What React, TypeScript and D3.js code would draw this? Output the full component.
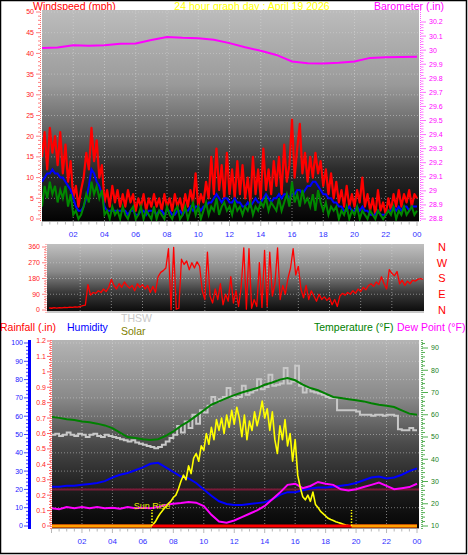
import React from 'react';
import * as d3 from 'd3';

// ---------------- data ----------------
const titleText = '24 hour graph day : April 19 2026';
const hourLabels = ['02', '04', '06', '08', '10', '12', '14', '16', '18', '20', '22', '00'];
const hourLabelHours = [2, 4, 6, 8, 10, 12, 14, 16, 18, 20, 22, 24];

const windTicks = [0, 5, 10, 15, 20, 25, 30, 35, 40, 45, 50];
const baroTicks = [28.8, 28.9, 29.0, 29.1, 29.2, 29.3, 29.4, 29.5, 29.6, 29.7, 29.8, 29.9, 30.0, 30.1, 30.2];
const dirTicks = [0, 90, 180, 270, 360];
const dirLetters = ['N', 'E', 'S', 'W', 'N'];
const humTicks = [0, 10, 20, 30, 40, 50, 60, 70, 80, 90, 100];
const rainTicks = [0, 0.1, 0.2, 0.3, 0.4, 0.5, 0.6, 0.7, 0.8, 0.9, 1.0, 1.1, 1.2];
const tempTicks = [10, 20, 30, 40, 50, 60, 70, 80, 90];

// wind: 10-minute samples from 00:00 to 24:00 (mph)
const windStep = 1 / 6;
const windGust = [
  15, 21, 12, 22, 16, 20, 13,
  21, 11, 18, 9, 14, 5,
  8, 3, 7, 10, 16, 12,
  22, 14, 19, 10, 13, 4,
  7, 3, 8, 4, 7, 3,
  6, 3, 7, 4, 6, 2,
  5, 3, 6, 2, 5, 3,
  6, 3, 5, 2, 6, 3,
  5, 2, 6, 3, 5, 2,
  6, 3, 7, 4, 11, 3,
  6, 4, 9, 5, 15, 6,
  17, 7, 13, 5, 16, 6,
  12, 5, 14, 6, 13, 5,
  10, 4, 15, 6, 12, 5,
  17, 7, 12, 6, 14, 8,
  15, 6, 18, 9, 13, 24,
  10, 17, 23, 11, 16, 9,
  15, 10, 16, 11, 14, 8,
  12, 6, 11, 5, 9, 4,
  7, 3, 8, 3, 6, 3,
  7, 4, 10, 3, 6, 2,
  5, 1, 7, 2, 4, 1,
  5, 2, 6, 3, 7, 3,
  6, 4, 7, 3, 6, 5,
];
const windAvg = [
  9, 10, 11, 11, 12, 11, 11,
  10, 10, 9, 8, 7, 5,
  3, 2, 2, 3, 5, 8,
  12, 11, 9, 8, 6, 3,
  2, 2, 2, 2, 2, 2,
  2, 2, 1, 2, 2, 1,
  1, 2, 2, 1, 2, 2,
  2, 1, 2, 2, 1, 2,
  2, 1, 1, 2, 2, 1,
  2, 2, 3, 2, 3, 3,
  2, 3, 3, 4, 4, 5,
  6, 5, 4, 5, 5, 4,
  4, 5, 4, 4, 3, 3,
  4, 3, 4, 5, 4, 4,
  5, 6, 5, 4, 5, 5,
  6, 5, 6, 6, 5, 6,
  6, 7, 7, 6, 7, 8,
  8, 9, 9, 8, 7, 6,
  6, 5, 5, 4, 4, 3,
  3, 2, 2, 3, 2, 2,
  3, 2, 3, 2, 2, 1,
  1, 1, 2, 1, 1, 1,
  2, 2, 3, 2, 3, 2,
  3, 3, 2, 3, 3, 3,
];
const windSpeed = [
  3, 8, 5, 9, 6, 8, 4,
  7, 5, 8, 3, 6, 1,
  2, 0, 1, 3, 6, 4,
  9, 6, 8, 5, 7, 1,
  2, 0, 3, 1, 2, 0,
  3, 1, 0, 2, 3, 0,
  1, 3, 0, 2, 1, 0,
  3, 0, 2, 1, 0, 3,
  1, 0, 2, 3, 0, 1,
  3, 0, 2, 4, 1, 3,
  0, 2, 4, 1, 3, 2,
  5, 1, 3, 4, 2, 3,
  1, 4, 2, 3, 1, 3,
  2, 4, 1, 3, 2, 4,
  3, 5, 2, 4, 3, 2,
  5, 2, 4, 6, 3, 9,
  4, 6, 3, 7, 4, 5,
  3, 6, 2, 7, 4, 2,
  4, 1, 3, 2, 3, 0,
  2, 1, 3, 0, 2, 1,
  3, 0, 2, 1, 0, 2,
  1, 0, 2, 1, 0, 1,
  2, 1, 3, 0, 2, 1,
  3, 1, 2, 3, 1, 2,
];

// barometer: hourly (in)
const baroStep = 1;
const baroValues = [
  30.015, 30.018, 30.035, 30.032, 30.035, 30.046, 30.048, 30.072, 30.094, 30.088,
  30.085, 30.074, 30.05, 30.02, 29.995, 29.966, 29.92, 29.907, 29.905, 29.91,
  29.92, 29.945, 29.95, 29.952, 29.953,
];

// wind direction: 10-minute samples (degrees)
const dirStep = 1 / 6;
const windDir = [
  12, 10, 14, 11, 13, 12, 15,
  14, 16, 15, 18, 17, 20,
  25, 28, 145, 85, 100, 95,
  110, 100, 120, 105, 130, 175,
  140, 120, 150, 130, 160, 140,
  125, 140, 110, 150, 130, 145,
  120, 140, 100, 135, 100, 190,
  215, 225, 240, 350, 2, 358,
  5, 10, 290, 260, 280, 230,
  270, 240, 275, 250, 110, 60,
  330, 80, 40, 120, 60, 150,
  30, 90, 50, 190, 40, 110,
  20, 130, 355, 5, 350, 10,
  60, 20, 270, 15, 340, 20,
  330, 80, 150, 355, 60, 140,
  90, 180, 240, 350, 200, 250,
  120, 70, 140, 60, 110, 80,
  50, 90, 60, 75, 55, 70,
  30, 60, 20, 80, 95, 85,
  100, 90, 110, 95, 120, 105,
  130, 115, 140, 150, 135, 160,
  145, 190, 150, 120, 230, 210,
  195, 220, 150, 170, 140, 165,
  150, 170, 165, 175, 180, 175,
];

// bottom panel, 30-minute samples
const halfStep = 0.5;
const temperature = [
  59, 58.6, 58, 57.6, 57, 56.6, 56, 55.2, 54, 52, 50, 49.5, 49, 48.6, 49, 50.5, 52.5,
  55, 57, 59.5, 62, 64.5, 66, 67.5, 68.8, 70, 71, 72, 73.5, 74.5, 75.8, 76.5, 75.5,
  73.5, 72, 71, 69.5, 68, 67.5, 67, 66.5, 66, 65.2, 64.5, 64, 63.5, 62, 60.5, 60,
];
const humidity = [
  21.5, 21.5, 22, 22, 22.5, 23, 23.5, 24.5, 26.5, 28, 29, 30.5, 32, 34, 34.5, 32, 29.5,
  27, 26, 23.5, 20, 16.5, 13.5, 12, 11.5, 11.5, 12, 12.5, 13, 14.5, 17, 18.5, 18.5,
  19.5, 20.5, 21, 21, 21.5, 22, 22.5, 23.5, 25, 26.5, 27, 26, 26.5, 28, 30, 31.5,
];
const dewPoint = [
  18, 17.5, 18.5, 18, 18.5, 18, 18.5, 18, 18.2, 17.8, 18.5, 18, 18.2, 18, 18.5, 19.5, 20,
  20.3, 20.8, 20.5, 19, 15, 12, 11.5, 12.5, 14, 15.5, 17, 19, 22, 25, 28.5, 29,
  27, 28, 29.8, 29, 28.5, 26.5, 26, 26.5, 27.5, 28.5, 29.5, 28, 26.5, 27, 27.5, 29,
];

// THSW: 15-minute samples (°F)
const thswStep = 0.25;
const thsw = [
  51, 51.5, 50.5, 51, 52, 51, 50.5, 51.5, 51, 50, 51, 51.5, 50.5, 50, 51, 50.5,
  50, 49.5, 49, 48.5, 48, 48.5, 47.5, 47, 46.5, 46, 45.5, 45, 45.5, 46.5, 48, 49.5,
  51, 55, 52, 57, 54, 60, 56, 62, 61, 64, 68, 66, 67, 68, 72, 68,
  67.5, 68, 73, 69, 70, 71, 76, 71.5, 72.5, 78, 73, 73.5, 74, 81, 74, 75,
  82, 73, 70, 72, 70.5, 70, 69.5, 69, 68, 67.5, 67.5, 62, 62, 62, 62, 62,
  61.5, 60, 60, 60, 59.5, 60, 60, 59.5, 60, 60, 59.5, 53.5, 53, 53, 54, 53, 53,
];

// solar radiation: 10-minute samples from 06:30 (W/m²)
const solarStart = 6.5;
const solarStep = 1 / 6;
const solar = [
  0, 10, 30, 60, 85, 105, 125, 145, 160, 185,
  200, 240, 290, 330, 300, 390, 340, 440, 470, 420,
  520, 490, 600, 530, 640, 560, 690, 620, 700, 600,
  720, 640, 750, 660, 770, 700, 580, 720, 560, 680,
  620, 740, 650, 720, 810, 700, 760, 620, 740, 560,
  470, 650, 560, 690, 520, 600, 420, 560, 330, 250,
  190, 170, 200, 160, 220, 140, 120, 95, 80, 65,
  50, 42, 35, 28, 22, 17, 12, 7, 3, 0,
];
const sunriseHour = 6.6;
const sunsetHour = 19.7;

// rainfall: hourly (in)
const rainfall = [0, 0, 0, 0, 0, 0, 0, 0, 0, 0, 0, 0, 0, 0, 0, 0, 0, 0, 0, 0, 0, 0, 0, 0, 0];
const humidityRefLine = 20;

// ---------------- drawing ----------------
const FONT = "'Liberation Sans', Arial, Helvetica, sans-serif";
type Sc = d3.ScaleLinear<number, number>;

const mk = (xs: Sc, ys: Sc, start: number, step: number, vals: number[], curve: d3.CurveFactory = d3.curveLinear) =>
  d3.line<number>().curve(curve).x((_, i) => xs(start + i * step)).y((d) => ys(d))(vals) || '';

const fmt1 = (v: number) => String(+v.toFixed(1));

export default function App() {
  // top panel
  const T = { x0: 42, x1: 419, y0: 10, y1: 222 };
  const xTop = d3.scaleLinear().domain([0, 24]).range([42, 417]);
  const windY = d3.scaleLinear().domain([0, 50]).range([219, 12]);
  const baroY = d3.scaleLinear().domain([28.8, 30.2]).range([219, 22]);
  // middle panel
  const M = { x0: 47, x1: 424, y0: 244, y1: 313 };
  const xMid = d3.scaleLinear().domain([0, 24]).range([49, 423]);
  const dirY = d3.scaleLinear().domain([0, 360]).range([310, 247]);
  // bottom panel
  const B = { x0: 52, x1: 419, y0: 340, y1: 529 };
  const xBot = d3.scaleLinear().domain([0, 24]).range([51.5, 417]);
  const humY = d3.scaleLinear().domain([0, 100]).range([526, 343]);
  const rainY = d3.scaleLinear().domain([0, 1.2]).range([526, 341]);
  const tempY = d3.scaleLinear().domain([10, 90]).range([526, 348]);
  const solarY = d3.scaleLinear().domain([0, 1200]).range([526, 341]);

  const halfHours = d3.range(0, 24.01, 0.5);
  const gridColor = '#d8d8d8';

  const vGrid = (xs: Sc, y0: number, y1: number) =>
    hourLabelHours.slice(0, -1).map((h) => (
      <line key={'vg' + h} x1={xs(h)} x2={xs(h)} y1={y0} y2={y1} stroke={gridColor} strokeOpacity={0.55} strokeDasharray="1 2" />
    ));
  const hGrid = (vals: number[], ys: Sc, x0: number, x1: number, k: string) =>
    vals.map((v) => (
      <line key={k + v} x1={x0} x2={x1} y1={ys(v)} y2={ys(v)} stroke={gridColor} strokeOpacity={0.5} strokeDasharray="1 2" />
    ));
  const xTicks = (xs: Sc, y: number, k: string) =>
    halfHours.map((h) => (
      <line key={k + h} x1={xs(h)} x2={xs(h)} y1={y} y2={y + (h % 2 === 0 ? 4 : 2.5)} stroke="#b8b8b8" strokeWidth={1} />
    ));
  const xLabels = (xs: Sc, y: number, k: string) =>
    hourLabels.map((t, i) => (
      <text key={k + t + i} x={xs(hourLabelHours[i])} y={y} fill="#3030ff" fontSize={8} textAnchor="middle">{t}</text>
    ));

  const sunriseLabel = 'Sun Rise';

  return (
    <svg width={468} height={555} style={{ position: 'absolute', left: 0, top: 0, background: '#fff' }} fontFamily={FONT}>
      <defs>
        <linearGradient id="gTop" x1="0" y1="0" x2="0" y2="1">
          <stop offset="0" stopColor="#bcbcbc" />
          <stop offset="0.35" stopColor="#9a9a9a" />
          <stop offset="0.55" stopColor="#686868" />
          <stop offset="0.75" stopColor="#2c2c2c" />
          <stop offset="1" stopColor="#020202" />
        </linearGradient>
        <linearGradient id="gMid" x1="0" y1="0" x2="0" y2="1">
          <stop offset="0" stopColor="#c0c0c0" />
          <stop offset="0.4" stopColor="#8a8a8a" />
          <stop offset="0.7" stopColor="#3a3a3a" />
          <stop offset="1" stopColor="#080808" />
        </linearGradient>
        <linearGradient id="gBot" x1="0" y1="0" x2="0" y2="1">
          <stop offset="0" stopColor="#b4b4b4" />
          <stop offset="0.3" stopColor="#8a8a8a" />
          <stop offset="0.55" stopColor="#4a4a4a" />
          <stop offset="0.8" stopColor="#1c1c1c" />
          <stop offset="1" stopColor="#050505" />
        </linearGradient>
        <clipPath id="cTop"><rect x={T.x0} y={T.y0} width={T.x1 - T.x0} height={T.y1 - T.y0} /></clipPath>
        <clipPath id="cMid"><rect x={M.x0} y={M.y0} width={M.x1 - M.x0} height={M.y1 - M.y0} /></clipPath>
        <clipPath id="cBot"><rect x={B.x0} y={B.y0} width={B.x1 - B.x0} height={B.y1 - B.y0} /></clipPath>
      </defs>
      <rect x={0.5} y={0.5} width={466} height={553} fill="#fff" stroke="#000" strokeWidth={1.5} />

      {/* ---------- top panel ---------- */}
      <text x={33} y={10} fill="#ff0000" fontSize={10.5}>Windspeed (mph)</text>
      <text x={252} y={10} fill="#ffff00" fontSize={10.5} textAnchor="middle">{titleText}</text>
      <text x={374} y={10} fill="#ff00ff" fontSize={10.5}>Barometer (.in)</text>

      <rect x={T.x0} y={T.y0} width={T.x1 - T.x0} height={T.y1 - T.y0} fill="url(#gTop)" />
      {vGrid(xTop, T.y0, T.y1)}
      {hGrid(windTicks.slice(1), windY, T.x0, T.x1, 'hgt')}
      <g clipPath="url(#cTop)">
        <path d={mk(xTop, baroY, 0, baroStep, baroValues)} fill="none" stroke="#ff00ff" strokeWidth={2} />
        <path d={mk(xTop, windY, 0, windStep, windGust)} fill="none" stroke="#ff0000" strokeWidth={2.2} strokeLinejoin="round" />
        <path d={mk(xTop, windY, 0, windStep, windAvg)} fill="none" stroke="#0000ff" strokeWidth={2} />
        <path d={mk(xTop, windY, 0, windStep, windSpeed)} fill="none" stroke="#008800" strokeWidth={2} />
      </g>
      <line x1={T.x0} x2={T.x1} y1={T.y1 - 0.5} y2={T.y1 - 0.5} stroke="#9a9a9a" />
      {/* left wind axis */}
      <line x1={40.5} x2={40.5} y1={T.y0} y2={T.y1} stroke="#ff7070" strokeDasharray="1 1" />
      {d3.range(0, 50.01, 1).map((v) => (
        <line key={'wt' + v} x1={v % 5 === 0 ? 36 : 38} x2={40} y1={windY(v)} y2={windY(v)} stroke="#ff8080" strokeWidth={1} />
      ))}
      {windTicks.map((v) => (
        <text key={'wl' + v} x={34} y={windY(v)} dy="0.35em" fill="#ff2020" fontSize={7} textAnchor="end">{v}</text>
      ))}
      {/* right barometer axis */}
      <line x1={420.5} x2={420.5} y1={T.y0} y2={T.y1} stroke="#ff60ff" strokeDasharray="1 1" />
      {d3.range(0, 71, 1).map((k) => {
        const v = 28.8 + k * 0.02;
        return <line key={'bt' + k} x1={421} x2={k % 5 === 0 ? 426 : 423.5} y1={baroY(v)} y2={baroY(v)} stroke="#ff70ff" strokeWidth={1} />;
      })}
      {baroTicks.map((v) => (
        <text key={'bl' + v} x={429} y={baroY(v)} dy="0.35em" fill="#ff00ff" fontSize={7}>{fmt1(v)}</text>
      ))}
      {xTicks(xTop, T.y1, 'xtt')}
      {xLabels(xTop, 237, 'xlt')}

      {/* ---------- middle panel ---------- */}
      <rect x={M.x0} y={M.y0} width={M.x1 - M.x0} height={M.y1 - M.y0} fill="url(#gMid)" />
      {vGrid(xMid, M.y0, M.y1)}
      {hGrid([90, 180, 270], dirY, M.x0, M.x1, 'hgm')}
      <line x1={M.x0} x2={M.x1} y1={M.y1 - 1} y2={M.y1 - 1} stroke="#c8c8c8" strokeWidth={2} />
      <g clipPath="url(#cMid)">
        <path d={mk(xMid, dirY, 0, dirStep, windDir)} fill="none" stroke="#ff0000" strokeWidth={1.3} strokeLinejoin="round" />
      </g>
      <line x1={46} x2={46} y1={M.y0} y2={M.y1} stroke="#ff7070" strokeDasharray="1 1" />
      {d3.range(0, 361, 15).map((v) => (
        <line key={'dt' + v} x1={v % 90 === 0 ? 42 : 44} x2={46} y1={dirY(v)} y2={dirY(v)} stroke="#ff8080" />
      ))}
      {dirTicks.map((v) => (
        <text key={'dl' + v} x={40} y={dirY(v)} dy="0.35em" fill="#ff2020" fontSize={7} textAnchor="end">{v}</text>
      ))}
      {dirTicks.map((v, i) => (
        <text key={'dn' + v} x={442} y={dirY(v)} dy="0.36em" fill="#ff0000" fontSize={11} textAnchor="middle">{dirLetters[i]}</text>
      ))}

      {/* ---------- bottom panel ---------- */}
      <text x={0} y={331} fill="#ff0000" fontSize={10.5}>Rainfall (.in)</text>
      <text x={67} y={331} fill="#0000ff" fontSize={10.5}>Humidity</text>
      <text x={121} y={322} fill="#c8c8c8" fontSize={10.5}>THSW</text>
      <text x={121} y={335} fill="#808000" fontSize={10.5}>Solar</text>
      <text x={314} y={331} fill="#008000" fontSize={10.5}>Temperature (°F)</text>
      <text x={397} y={331} fill="#ff00ff" fontSize={10.5}>Dew Point (°F)</text>

      <rect x={B.x0} y={B.y0} width={B.x1 - B.x0} height={B.y1 - B.y0} fill="url(#gBot)" />
      {vGrid(xBot, B.y0, B.y1)}
      {hGrid(humTicks.slice(1), humY, B.x0, B.x1, 'hgb')}
      <g clipPath="url(#cBot)">
        <line x1={B.x0} x2={B.x1} y1={humY(humidityRefLine)} y2={humY(humidityRefLine)} stroke="#7a1a38" strokeWidth={2} />
        <path d={mk(xBot, tempY, 0, thswStep, thsw, d3.curveStepAfter)} fill="none" stroke="#c8c8c8" strokeWidth={2} />
        <path d={mk(xBot, tempY, 0, halfStep, temperature)} fill="none" stroke="#008000" strokeWidth={2} />
        <path d={mk(xBot, humY, 0, halfStep, humidity)} fill="none" stroke="#0000ff" strokeWidth={2} />
        <path d={mk(xBot, tempY, 0, halfStep, dewPoint)} fill="none" stroke="#ff00ff" strokeWidth={2} />
        <path d={mk(xBot, solarY, solarStart, solarStep, solar)} fill="none" stroke="#ffff00" strokeWidth={1.6} strokeLinejoin="round" />
        <path d={mk(xBot, rainY, 0, 1, rainfall)} fill="none" stroke="#ff0000" strokeWidth={3} />
        {[[0, sunriseHour], [sunsetHour, 24]].map(([a, b], i) => (
          <line key={'night' + i} x1={xBot(a)} x2={xBot(b)} y1={solarY(0)} y2={solarY(0)} stroke="#ffa000" strokeWidth={3} />
        ))}
        {[sunriseHour, sunsetHour].map((h, i) => (
          <line key={'sun' + i} x1={xBot(h)} x2={xBot(h)} y1={solarY(0)} y2={solarY(0) - 16} stroke="#ffff00" strokeWidth={1.5} strokeDasharray="1.5 1.5" />
        ))}
      </g>
      <text x={xBot(sunriseHour)} y={509} fill="#e8e800" fontSize={9} textAnchor="middle">{sunriseLabel}</text>
      <line x1={B.x0} x2={B.x1} y1={B.y1 - 0.5} y2={B.y1 - 0.5} stroke="#9a9a9a" />

      {/* humidity axis */}
      <line x1={29.5} x2={29.5} y1={B.y0} y2={B.y1} stroke="#0000ff" strokeWidth={3} />
      {d3.range(0, 101, 2).map((v) => (
        <line key={'ht' + v} x1={v % 10 === 0 ? 24 : 26} x2={28} y1={humY(v)} y2={humY(v)} stroke="#4040ff" />
      ))}
      {humTicks.map((v) => (
        <text key={'hl' + v} x={23} y={humY(v)} dy="0.35em" fill="#2020ff" fontSize={7} textAnchor="end">{v}</text>
      ))}
      {/* rain axis */}
      <line x1={51} x2={51} y1={B.y0} y2={B.y1} stroke="#ff5050" strokeDasharray="1 1" strokeWidth={1.5} />
      {d3.range(0, 61, 1).map((k) => {
        const v = k * 0.02;
        return <line key={'rt' + k} x1={k % 5 === 0 ? 47 : 49} x2={51} y1={rainY(v)} y2={rainY(v)} stroke="#ff6060" />;
      })}
      {rainTicks.map((v) => (
        <text key={'rl' + v} x={46} y={rainY(v)} dy="0.35em" fill="#ff2020" fontSize={7} textAnchor="end">{fmt1(v)}</text>
      ))}
      {/* temperature axis */}
      <line x1={422} x2={422} y1={B.y0} y2={B.y1} stroke="#40a040" strokeDasharray="1 1" strokeWidth={1.5} />
      {d3.range(10, 94, 2).map((v) => (
        <line key={'tt' + v} x1={422} x2={v % 10 === 0 ? 428 : 425} y1={tempY(v)} y2={tempY(v)} stroke="#50b050" />
      ))}
      {tempTicks.map((v) => (
        <text key={'tl' + v} x={431} y={tempY(v)} dy="0.35em" fill="#208020" fontSize={7}>{v}</text>
      ))}
      {xTicks(xBot, B.y1, 'xtb')}
      {xLabels(xBot, 544, 'xlb')}
    </svg>
  );
}
